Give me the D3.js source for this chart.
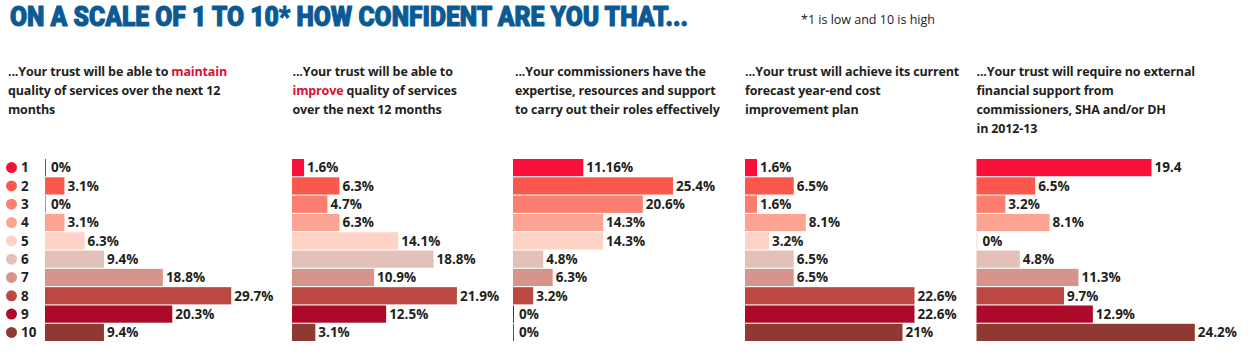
<!DOCTYPE html>
<html><head><meta charset="utf-8">
<script src="https://cdn.jsdelivr.net/npm/d3@7"></script>
<style>
body{margin:0;background:#fff;}
svg{display:block;}
</style></head>
<body>
<svg id="chart" width="1250" height="356"></svg>
<script>
// ---- data ----
const scores = ["1","2","3","4","5","6","7","8","9","10"];
const maintainQuality = [0, 3.1, 0, 3.1, 6.3, 9.4, 18.8, 29.7, 20.3, 9.4];
const improveQuality = [1.6, 6.3, 4.7, 6.3, 14.1, 18.8, 10.9, 21.9, 12.5, 3.1];
const commissionersExpertise = [11.16, 25.4, 20.6, 14.3, 14.3, 4.8, 6.3, 3.2, 0, 0];
const costImprovementPlan = [1.6, 6.5, 1.6, 8.1, 3.2, 6.5, 6.5, 22.6, 22.6, 21];
const noExternalSupport = [19.4, 6.5, 3.2, 8.1, 0, 4.8, 11.3, 9.7, 12.9, 24.2];
const valueLabels = [
  ["0%","3.1%","0%","3.1%","6.3%","9.4%","18.8%","29.7%","20.3%","9.4%"],
  ["1.6%","6.3%","4.7%","6.3%","14.1%","18.8%","10.9%","21.9%","12.5%","3.1%"],
  ["11.16%","25.4%","20.6%","14.3%","14.3%","4.8%","6.3%","3.2%","0%","0%"],
  ["1.6%","6.5%","1.6%","8.1%","3.2%","6.5%","6.5%","22.6%","22.6%","21%"],
  ["19.4","6.5%","3.2%","8.1%","0%","4.8%","11.3%","9.7%","12.9%","24.2%"]
];
const headers = [
  [[["...Your trust will be able to ",0],["maintain",1]],[["quality of services over the next 12",0]],[["months",0]]],
  [[["...Your trust will be able to",0]],[["improve",1],[" quality of services",0]],[["over the next 12 months",0]]],
  [[["...Your commissioners have the",0]],[["expertise, resources and support",0]],[["to carry out their roles effectively",0]]],
  [[["...Your trust will achieve its current",0]],[["forecast year-end cost",0]],[["improvement plan",0]]],
  [[["...Your trust will require no external",0]],[["financial support from",0]],[["commissioners, SHA and/or DH",0]],[["in 2012-13",0]]]
];
const titleText = "ON A SCALE OF 1 TO 10* HOW CONFIDENT ARE YOU THAT...";
const footnote = "*1 is low and 10 is high";
const scoreColors = ["#f7103a","#fb574d","#fb7e6e","#fca392","#fed2c4","#e3c0b8","#d6948a","#bb4843","#ad0a2b","#8e3a33"];

// ---- layout ----
const series = [maintainQuality, improveQuality, commissionersExpertise, costImprovementPlan, noExternalSupport];
const panelX = [45, 292, 513, 745, 976.5];
const headerX = [8, 292.5, 515, 745, 976.5];
const pxPerUnit = [6.27, 7.53, 6.3, 7.5, 9.02];
const rangeW = 220;

const svg = d3.select("#chart");
const fontMain = "'Open Sans', 'Liberation Sans', sans-serif";

svg.append("text")
  .attr("x", 10).attr("y", 26)
  .attr("fill", "#0b5a93")
  .attr("stroke", "#0b5a93").attr("stroke-width", 1.1).attr("stroke-linejoin", "round")
  .style("font-family", "Roboto, 'Liberation Sans', sans-serif")
  .style("font-weight", 900).style("font-size", "28px")
  .attr("textLength", 678).attr("lengthAdjust", "spacingAndGlyphs")
  .text(titleText);

svg.append("text")
  .attr("x", 801).attr("y", 24)
  .attr("fill", "#222")
  .style("font-family", fontMain).style("font-size", "12.5px")
  .text(footnote);

const y = d3.scaleBand().domain(scores).range([159, 341]).paddingInner(0.06).paddingOuter(0);

// legend
const leg = svg.append("g");
leg.selectAll("circle").data(scores).join("circle")
  .attr("cx", 11.5).attr("cy", d => y(d) + y.bandwidth()/2)
  .attr("r", 5.5).attr("fill", (d,i) => scoreColors[i]);
leg.selectAll("text").data(scores).join("text")
  .attr("x", 21).attr("y", d => y(d) + y.bandwidth()/2)
  .attr("dy", "0.36em")
  .attr("fill", "#231f20")
  .style("font-family", fontMain).style("font-weight", 700).style("font-size", "13.5px")
  .text(d => d);

series.forEach((vals, p) => {
  const x = d3.scaleLinear().domain([0, rangeW / pxPerUnit[p]]).range([panelX[p], panelX[p] + rangeW]);
  const g = svg.append("g");
  // header
  const h = g.append("text")
    .style("font-family", fontMain).style("font-weight", 700).style("font-size", "12.5px")
    .style("letter-spacing", "-0.15px")
    .attr("fill", "#231f20");
  headers[p].forEach((line, li) => {
    line.forEach((seg, si) => {
      const t = h.append("tspan").text(seg[0]).attr("fill", seg[1] ? "#d7102f" : "#231f20");
      if (si === 0) t.attr("x", headerX[p]).attr("y", 76 + li * 19);
    });
  });
  // bars
  g.selectAll("rect").data(vals).join("rect")
    .attr("x", x(0))
    .attr("y", (d,i) => y(scores[i]))
    .attr("height", y.bandwidth())
    .attr("width", d => Math.max(1, x(d) - x(0)))
    .attr("fill", (d,i) => scoreColors[i]);
  g.selectAll("text.val").data(vals).join("text")
    .attr("class", "val")
    .attr("x", (d,i) => x(d) + (d === 0 ? 6 : 3))
    .attr("y", (d,i) => y(scores[i]) + y.bandwidth()/2)
    .attr("dy", "0.36em")
    .attr("fill", "#231f20")
    .style("font-family", fontMain).style("font-weight", 700).style("font-size", "13.5px")
    .text((d,i) => valueLabels[p][i]);
});
</script>
</body></html>
